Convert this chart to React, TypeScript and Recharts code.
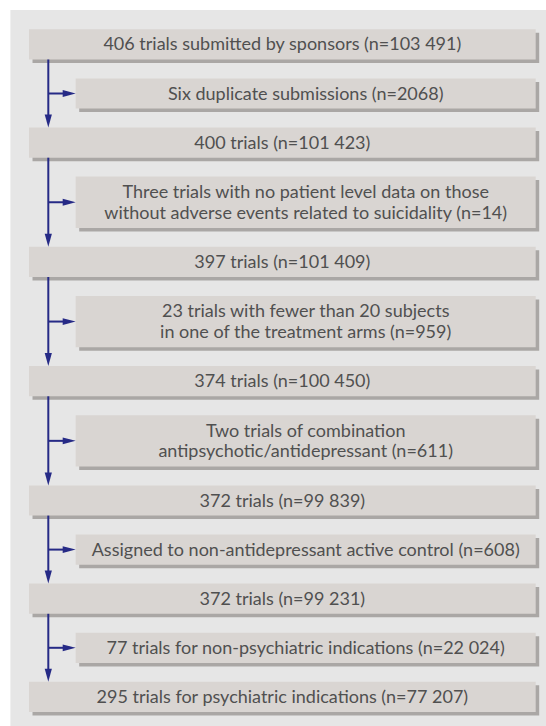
import React from 'react';
import {
  ComposedChart,
  XAxis,
  YAxis,
  Scatter,
  ReferenceArea,
  ReferenceLine,
} from 'recharts';

// Main flow boxes, top to bottom
const mainLabels = [
  '406 trials submitted by sponsors (n=103 491)',
  '400 trials (n=101 423)',
  '397 trials (n=101 409)',
  '374 trials (n=100 450)',
  '372 trials (n=99 839)',
  '372 trials (n=99 231)',
  '295 trials for psychiatric indications (n=77 207)',
];

// Exclusions between consecutive main boxes
const exclusionLabels = [
  ['Six duplicate submissions (n=2068)'],
  ['Three trials with no patient level data on those', 'without adverse events related to suicidality (n=14)'],
  ['23 trials with fewer than 20 subjects', 'in one of the treatment arms (n=959)'],
  ['Two trials of combination', 'antipsychotic/antidepressant (n=611)'],
  ['Assigned to non-antidepressant active control (n=608)'],
  ['77 trials for non-psychiatric indications (n=22 024)'],
];

const W = 546;
const H = 726;
const TOP = 29.3;
const BOX_PAD = 9.1;
const LINE_H = 21.1;
const GAP = 18.9;
const MAIN_X1 = 29;
const SIDE_X1 = 75.7;
const X2 = 535.7;
const TRUNK_X = 48.3;
const SHADOW = 3.5;
const HEAD = 13;

const NAVY = '#262a86';
const BOX = '#d9d5d2';
const SHADE = '#aaa7a5';
const PANEL = '#e6e6e6';
const TEXT = '#505050';
const FONT = 'Lato, sans-serif';

type Box = { kind: 'main' | 'side'; lines: string[]; x1: number; y1: number; y2: number };

// stack the boxes
const boxes: Box[] = [];
let cursor = TOP;
mainLabels.forEach((label, i) => {
  boxes.push({ kind: 'main', lines: [label], x1: MAIN_X1, y1: cursor, y2: cursor + BOX_PAD + LINE_H });
  cursor += BOX_PAD + LINE_H + GAP;
  const ex = exclusionLabels[i];
  if (ex) {
    const h = BOX_PAD + LINE_H * ex.length;
    boxes.push({ kind: 'side', lines: ex, x1: SIDE_X1, y1: cursor, y2: cursor + h });
    cursor += h + GAP;
  }
});

const mainBoxes = boxes.filter(b => b.kind === 'main');
const sideBoxes = boxes.filter(b => b.kind === 'side');

// arrow tips: down into each following main box, right into each exclusion box
const arrowTips = [
  ...mainBoxes.slice(1).map(b => ({ x: TRUNK_X, y: b.y1, dir: 'down' })),
  ...sideBoxes.map(b => ({ x: b.x1, y: (b.y1 + b.y2) / 2, dir: 'right' })),
];

const ArrowHead = (props: any) => {
  const { cx, cy, payload } = props;
  if (cx == null || cy == null) return null;
  const pts =
    payload.dir === 'down'
      ? `${cx},${cy} ${cx - 3.6},${cy - HEAD} ${cx + 3.6},${cy - HEAD}`
      : `${cx},${cy} ${cx - HEAD},${cy - 3.4} ${cx - HEAD},${cy + 3.4}`;
  return <polygon points={pts} fill={NAVY} />;
};

const BoxText = (lines: string[]) => (props: any) => {
  const vb = props.viewBox;
  if (!vb) return null;
  const cx = vb.x + vb.width / 2;
  const cy = vb.y + vb.height / 2;
  return (
    <text
      x={cx}
      textAnchor="middle"
      fill={TEXT}
      style={{ fontFamily: FONT, fontSize: 18 }}
    >
      {lines.map((l, i) => (
        <tspan key={i} x={cx} y={cy + 6 + (i - (lines.length - 1) / 2) * 20.7}>
          {l}
        </tspan>
      ))}
    </text>
  );
};

export default function App() {
  return (
    <div style={{ position: 'absolute', left: 0, top: 0, background: '#fff' }}>
      <ComposedChart width={W} height={H} margin={{ top: 0, right: 0, bottom: 0, left: 0 }}>
        <XAxis type="number" dataKey="x" domain={[0, W]} hide allowDataOverflow />
        <YAxis type="number" dataKey="y" domain={[0, H]} reversed hide allowDataOverflow />
        <ReferenceArea x1={10.4} x2={W} y1={10} y2={H} fill={PANEL} fillOpacity={1} stroke="none" />
        {boxes.map((b, i) => (
          <ReferenceArea
            key={`sh-${i}`}
            x1={b.x1 + SHADOW}
            x2={X2 + SHADOW}
            y1={b.y1 + SHADOW}
            y2={b.y2 + SHADOW}
            fill={SHADE}
            fillOpacity={1}
            stroke="none"
          />
        ))}
        {boxes.map((b, i) => (
          <ReferenceArea
            key={`bx-${i}`}
            x1={b.x1}
            x2={X2}
            y1={b.y1}
            y2={b.y2}
            fill={BOX}
            fillOpacity={1}
            stroke="none"
            label={BoxText(b.lines)}
          />
        ))}
        {mainBoxes.slice(0, -1).map((b, i) => (
          <ReferenceLine
            key={`tr-${i}`}
            segment={[
              { x: TRUNK_X, y: b.y2 },
              { x: TRUNK_X, y: mainBoxes[i + 1].y1 - 6 },
            ]}
            stroke={NAVY}
            strokeWidth={2}
          />
        ))}
        {sideBoxes.map((b, i) => (
          <ReferenceLine
            key={`br-${i}`}
            segment={[
              { x: TRUNK_X, y: (b.y1 + b.y2) / 2 },
              { x: b.x1 - 6, y: (b.y1 + b.y2) / 2 },
            ]}
            stroke={NAVY}
            strokeWidth={2}
          />
        ))}
        <Scatter data={arrowTips} dataKey="y" shape={ArrowHead} isAnimationActive={false} />
      </ComposedChart>
    </div>
  );
}
